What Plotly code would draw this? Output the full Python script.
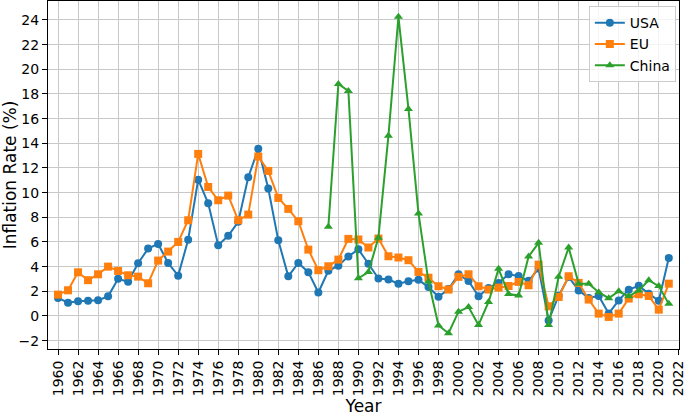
import plotly.graph_objects as go

# ========== DATA ==========
years = list(range(1960, 2022))
china_years = list(range(1987, 2022))

usa = [1.46, 1.07, 1.20, 1.24, 1.28, 1.59, 3.01, 2.77, 4.27, 5.46,
       5.84, 4.29, 3.27, 6.18, 11.05, 9.14, 5.74, 6.50, 7.63, 11.25,
       13.55, 10.33, 6.13, 3.21, 4.30, 3.55, 1.90, 3.66, 4.08, 4.83,
       5.40, 4.23, 3.03, 2.95, 2.61, 2.81, 2.93, 2.34, 1.55, 2.19,
       3.38, 2.83, 1.59, 2.27, 2.68, 3.39, 3.23, 2.85, 3.84, -0.36,
       1.64, 3.16, 2.07, 1.46, 1.62, 0.20, 1.26, 2.13, 2.44, 1.81,
       1.23, 4.70]

eu = [1.73, 2.08, 3.54, 2.90, 3.38, 4.00, 3.65, 3.30, 3.19, 2.65,
      4.49, 5.22, 6.00, 7.76, 13.14, 10.46, 9.38, 9.76, 7.76, 8.22,
      12.93, 11.76, 9.57, 8.68, 7.68, 5.38, 3.71, 4.03, 4.57, 6.25,
      6.20, 5.55, 6.28, 4.84, 4.74, 4.52, 3.57, 3.10, 2.41, 2.14,
      3.17, 3.38, 2.41, 2.14, 2.30, 2.43, 2.76, 2.49, 4.16, 0.78,
      1.54, 3.22, 2.68, 1.33, 0.19, -0.08, 0.19, 1.41, 1.76, 1.62,
      0.51, 2.62]

china = [7.23, 18.81, 18.25, 3.05, 3.56, 6.35, 14.61, 24.26, 16.79, 8.31,
         2.79, -0.77, -1.40, 0.35, 0.72, -0.73, 1.13, 3.82, 1.78, 1.65,
         4.82, 5.93, -0.73, 3.18, 5.55, 2.62, 2.62, 1.92, 1.44, 2.00,
         1.59, 2.07, 2.90, 2.42, 0.98]

x_ticks = list(range(1960, 2023, 2))
y_ticks = list(range(-2, 25, 2))
y_ticktext = [str(v).replace("-", "\u2212") for v in y_ticks]

# ========== PLOT ==========
fig = go.Figure()
series = [
    ("USA", years, usa, "#1f77b4", "circle"),
    ("EU", years, eu, "#ff7f0e", "square"),
    ("China", china_years, china, "#2ca02c", "triangle-up"),
]
for name, xs, ys, col, sym in series:
    fig.add_trace(go.Scatter(x=xs, y=ys, name=name, mode="lines+markers",
                             line=dict(color=col, width=2),
                             marker=dict(color=col, symbol=sym, size=8)))

axis_style = dict(showline=True, mirror=True, linecolor="black", linewidth=1,
                  ticks="outside", ticklen=5, tickcolor="black",
                  showgrid=True, gridcolor="#c8c8c8", gridwidth=1,
                  zeroline=False, automargin=False, ticklabeloverflow="allow",
                  tickfont=dict(size=14, color="black"))

fig.update_xaxes(range=[1959, 2022.02], tickvals=x_ticks, tickangle=-90,
                 title=dict(text="Year", font=dict(size=17, color="black"), standoff=4),
                 **axis_style)
fig.update_yaxes(range=[-2.68, 25.54], tickvals=y_ticks, ticktext=y_ticktext,
                 title=dict(text="Inflation Rate (%)", font=dict(size=17, color="black"), standoff=6),
                 **axis_style)

fig.update_layout(width=685, height=416,
                  margin=dict(l=48, r=6, t=1, b=67),
                  plot_bgcolor="white", paper_bgcolor="white",
                  font=dict(family="DejaVu Sans", color="black"),
                  legend=dict(x=0.995, y=0.985, xanchor="right", yanchor="top",
                              bgcolor="rgba(255,255,255,0.8)", bordercolor="#cccccc",
                              borderwidth=1, font=dict(size=14)))

# the page body has a default 8px margin, drop it so the figure sits at 0,0
fig.write_html("out.html", config={"displayModeBar": False},
               post_script="document.body.style.margin='0';")
